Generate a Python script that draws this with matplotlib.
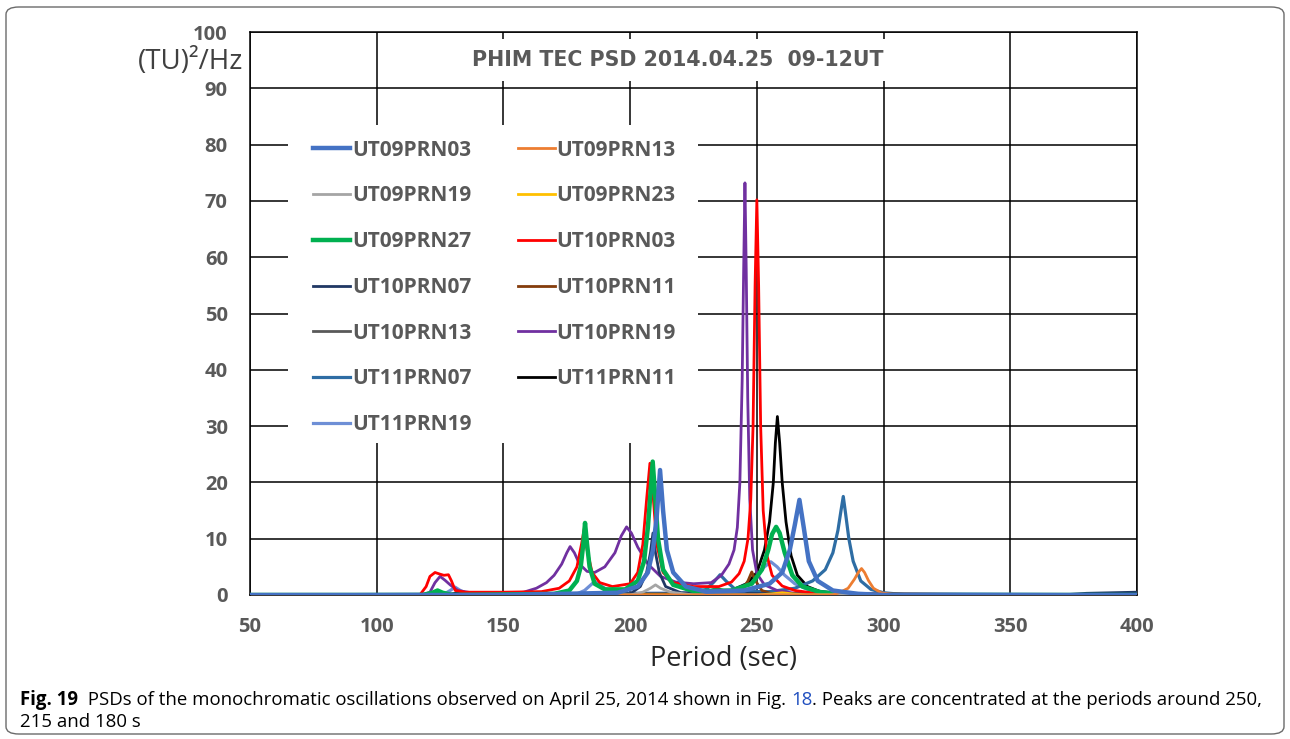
import matplotlib
matplotlib.use('Agg')
import matplotlib.pyplot as plt
from matplotlib.patches import FancyBboxPatch, Rectangle

# series names, in legend order
names = ['UT09PRN03', 'UT09PRN13', 'UT09PRN19', 'UT09PRN23', 'UT09PRN27', 'UT10PRN03',
         'UT10PRN07', 'UT10PRN11', 'UT10PRN13', 'UT10PRN19', 'UT11PRN07', 'UT11PRN11',
         'UT11PRN19']
colors = ['#4472C4', '#ED7D31', '#A5A5A5', '#FFC000', '#00B050', '#FF0000',
          '#203864', '#843C0C', '#595959', '#7030A0', '#2E6DA4', '#000000',
          '#6E8FD6']
widths = [3.2, 2.0, 2.0, 2.0, 3.2, 2.0, 2.0, 2.0, 2.0, 2.0, 2.3, 2.0, 2.3]

# period (sec) / PSD values
p_ut09prn03 = [50, 150, 195, 203, 207, 209, 210.5, 211.8, 213, 214.5, 217, 222, 230, 245,
               255, 260, 263, 265, 266.8, 268.5, 270.5, 274, 280, 290, 300, 400]
v_ut09prn03 = [0, 0, 0.4, 1.5, 4, 8, 14, 22.2, 15, 8, 4, 1.5, 0.6, 0.8,
               2, 4, 8, 12.5, 16.9, 12, 6, 2.5, 0.8, 0.2, 0, 0]

p_ut09prn13 = [50, 280, 283, 286, 288.5, 290, 291.3, 292.5, 294, 296, 299, 305, 400]
v_ut09prn13 = [0, 0, 0.5, 1.2, 2.8, 4.0, 4.7, 4.0, 2.6, 1.2, 0.4, 0, 0]

p_ut09prn19 = [50, 200, 205, 208, 210, 212, 216, 225, 400]
v_ut09prn19 = [0, 0, 0.5, 1.2, 1.8, 1.2, 0.5, 0, 0]

p_ut09prn23 = [50, 250, 256, 260, 264, 270, 400]
v_ut09prn23 = [0, 0, 0.2, 0.4, 0.2, 0, 0]

p_ut09prn27 = [50, 118, 122, 124, 126, 130, 170, 176, 179, 180.5, 181.5, 182.2, 183, 184,
               186, 190, 198, 203, 205.5, 207, 208, 208.9, 209.8, 211, 213, 217, 225,
               240, 248, 252, 254.5, 256, 257.6, 259, 261, 264, 268, 275, 290, 400]
v_ut09prn27 = [0, 0, 0.4, 0.8, 0.4, 0, 0.2, 0.8, 2.5, 5, 9, 12.8, 9, 5,
               2, 1, 1, 2.5, 6, 12, 18, 23.7, 18, 10, 4.5, 1.8, 0.7,
               0.8, 2, 4.5, 8, 10.8, 12.1, 11, 7.5, 3.5, 1.5, 0.5, 0, 0]

p_ut10prn03 = [50, 117, 119.5, 121, 123, 125, 126.5, 128.3, 129.5, 131, 135, 150, 165,
               172, 176, 179, 180.8, 181.9, 183, 185, 188, 193, 200, 203, 205, 206.5,
               207.8, 209, 210.5, 213, 217, 225, 235, 240, 243, 245, 246.5, 247.6, 248.5,
               249.3, 250, 250.7, 251.5, 252.5, 254, 256, 260, 265, 275, 400]
v_ut10prn03 = [0, 0, 1.5, 3.3, 4.0, 3.7, 3.5, 3.6, 2.5, 0.8, 0.5, 0.5, 0.6,
               1.2, 2.5, 5, 9, 11.8, 8, 4, 2.2, 1.5, 2, 4, 9, 17,
               23.4, 18, 9, 4, 2.2, 1.5, 1.5, 2.3, 3.8, 6, 10, 17, 30,
               55, 70.2, 55, 30, 15, 7, 3.5, 1.6, 0.8, 0.2, 0]

p_ut10prn07 = [50, 200, 204, 206.5, 208, 209, 210, 211.5, 214, 220, 300, 370, 380, 390, 400]
v_ut10prn07 = [0, 0.2, 1.5, 4, 7.5, 11, 7.5, 4, 1.5, 0.4, 0, 0, 0.3, 0.4, 0.5]

p_ut10prn11 = [50, 240, 244, 246.5, 248, 249.5, 252, 256, 400]
v_ut10prn11 = [0, 0.2, 0.8, 2.5, 4.1, 2.5, 0.8, 0.2, 0]

p_ut10prn13 = [50, 225, 230, 234, 237, 241, 248, 400]
v_ut10prn13 = [0, 0, 0.5, 1.2, 0.8, 0.3, 0, 0]

p_ut10prn19 = [50, 118, 121, 123, 125, 127, 129, 132, 140, 150, 158, 163, 167, 170, 173,
               175, 176.3, 178, 180, 183, 186, 190, 194, 196.5, 198.6, 200.5, 203, 207,
               212, 218, 225, 232, 236, 239, 241, 242.3, 243.3, 244.2, 244.8, 245.3, 245.8,
               246.4, 247.2, 248.3, 250, 253, 258, 265, 275, 400]
v_ut10prn19 = [0, 0, 0.5, 2.2, 3.3, 2.6, 1.8, 0.8, 0.2, 0.2, 0.5, 1.2, 2.2, 3.5, 5.5,
               7.5, 8.6, 7.5, 5.5, 4.2, 4, 5, 7.5, 10.5, 12.1, 11, 8.5, 5.5,
               3.3, 2.3, 2, 2.2, 3.5, 5.5, 8, 12, 20, 38, 58, 73.2, 58,
               35, 17, 8, 3.8, 1.8, 0.8, 0.3, 0.1, 0]

p_ut11prn07 = [50, 225, 230, 233, 235.5, 238, 241, 245, 255, 265, 272, 277, 280, 282,
               283.2, 284.1, 285, 286.3, 288, 291, 295, 300, 310, 400]
v_ut11prn07 = [0, 0.3, 1, 2.3, 3.6, 2.4, 1.2, 0.6, 0.6, 1.2, 2.5, 4.5, 7.5, 11.5,
               15, 17.5, 14.5, 10, 6, 2.5, 1, 0.4, 0, 0]

p_ut11prn11 = [50, 128, 131, 134, 137, 180, 184, 190, 195, 230, 240, 246, 250, 253, 255,
               256.5, 257.3, 258.1, 259, 260, 261.5, 263.5, 266, 270, 275, 285, 300, 400]
v_ut11prn11 = [0, 0, 0.3, 0.3, 0, 0, 0.3, 0.3, 0, 0.2, 0.8, 2, 4, 8, 13,
               20, 27, 31.7, 27, 20, 13, 7, 3.5, 1.5, 0.6, 0.2, 0, 0]

p_ut11prn19 = [50, 126, 129, 130.9, 133, 136, 178, 182, 186, 190, 194, 230, 240, 246, 250,
               253, 255.5, 258, 261, 265, 270, 280, 400]
v_ut11prn19 = [0, 0, 0.8, 1.4, 0.8, 0.2, 0, 0.8, 2.4, 1.2, 0.3, 0.3, 0.8, 2, 3.5,
               5, 5.9, 5, 3.5, 2, 1, 0.3, 0]

periods = [p_ut09prn03, p_ut09prn13, p_ut09prn19, p_ut09prn23, p_ut09prn27, p_ut10prn03,
           p_ut10prn07, p_ut10prn11, p_ut10prn13, p_ut10prn19, p_ut11prn07, p_ut11prn11,
           p_ut11prn19]
values = [v_ut09prn03, v_ut09prn13, v_ut09prn19, v_ut09prn23, v_ut09prn27, v_ut10prn03,
          v_ut10prn07, v_ut10prn11, v_ut10prn13, v_ut10prn19, v_ut11prn07, v_ut11prn11,
          v_ut11prn19]

x_ticks = [50, 100, 150, 200, 250, 300, 350, 400]
y_ticks = [0, 10, 20, 30, 40, 50, 60, 70, 80, 90, 100]

tick_gray = '#595959'
W, H = 1290, 739
ax_l, ax_r, ax_t, ax_b = 250, 1137, 32, 595


def ax_xy(px, py):
    # pixel position -> axes fraction
    return (px - ax_l) / (ax_r - ax_l), (ax_b - py) / (ax_b - ax_t)


fig = plt.figure(figsize=(W / 100, H / 100), dpi=100)
ax = fig.add_axes([ax_l / W, 1 - ax_b / H, (ax_r - ax_l) / W, (ax_b - ax_t) / H])

handles = [None] * len(names)
for i in reversed(range(len(names))):
    ln, = ax.plot(periods[i], values[i], color=colors[i], lw=widths[i], label=names[i],
                  solid_joinstyle='round', zorder=3 + len(names) - i)
    handles[i] = ln

ax.set_xlim(50, 400)
ax.set_ylim(0, 100)
ax.set_xticks(x_ticks)
ax.set_yticks(y_ticks)
ax.grid(True, color='black', lw=1.1, zorder=0)
ax.set_axisbelow(True)
for s in ax.spines.values():
    s.set_color('black')
    s.set_linewidth(1.1)
ax.tick_params(length=0, colors=tick_gray)
for lab in ax.get_xticklabels() + ax.get_yticklabels():
    lab.set_fontweight('bold')
    lab.set_fontsize(14.5)
    lab.set_family('Open Sans')
ax.tick_params(axis='x', pad=16)
ax.tick_params(axis='y', pad=16)

# y-axis unit label at the top left
fig.text(243 / W, 1 - 62 / H, '(TU)²/Hz', ha='right', va='center', fontsize=20,
         color='#404040', family='Open Sans')
fig.text(724 / W, 1 - 659 / H, 'Period (sec)', ha='center', va='center', fontsize=19.5,
         color='#262626', family='Open Sans')

ax.text(0.482, 0.95, 'PHIM TEC PSD 2014.04.25  09-12UT', transform=ax.transAxes,
        ha='center', va='center', fontsize=14.8, fontweight='bold', color=tick_gray,
        family='DejaVu Sans', zorder=20,
        bbox=dict(facecolor='white', edgecolor='none', pad=8))

# white area behind the legend hides the grid
x0, y0 = ax_xy(288, 443)
x1, y1 = ax_xy(698, 125)
ax.add_patch(Rectangle((x0, y0), x1 - x0, y1 - y0, transform=ax.transAxes,
                       facecolor='white', edgecolor='none', zorder=1))

order = [0, 2, 4, 6, 8, 10, 12, 1, 3, 5, 7, 9, 11]
leg = ax.legend([handles[k] for k in order], [names[k] for k in order], ncol=2,
                loc='upper left', bbox_to_anchor=ax_xy(313, 139.5), frameon=False,
                borderaxespad=0, borderpad=0,
                handlelength=1.78, handletextpad=0.1, columnspacing=2.2,
                labelspacing=1.19,
                prop={'family': 'Open Sans', 'weight': 'bold', 'size': 15})
leg.set_zorder(30)
for t in leg.get_texts():
    t.set_color(tick_gray)

# caption under the chart
cap_size = 13.4
t1 = fig.text(20 / W, 1 - 700 / H, 'Fig. 19', fontsize=cap_size, fontweight='bold',
              family='Open Sans', va='center')
a2 = ax.annotate('  PSDs of the monochromatic oscillations observed on April 25, 2014 shown in Fig. ',
                 xy=(1, 0.5), xycoords=t1, va='center', fontsize=cap_size, family='Open Sans',
                 annotation_clip=False)
a3 = ax.annotate('18', xy=(1, 0.5), xycoords=a2, va='center', fontsize=cap_size,
                 family='Open Sans', color='#1F4EBF', annotation_clip=False)
a4 = ax.annotate('. Peaks are concentrated at the periods around 250,', xy=(1, 0.5),
                 xycoords=a3, va='center', fontsize=cap_size, family='Open Sans',
                 annotation_clip=False)
fig.text(20 / W, 1 - 722 / H, '215 and 180 s', fontsize=cap_size, family='Open Sans',
         va='center')

frame = FancyBboxPatch((6 / W, 5 / H), 1278 / W, 727 / H,
                       boxstyle='round,pad=0,rounding_size=0.01', transform=fig.transFigure,
                       facecolor='none', edgecolor='#6b6b6b', lw=1.0)
fig.patches.append(frame)

fig.savefig('out.png', dpi=100)
